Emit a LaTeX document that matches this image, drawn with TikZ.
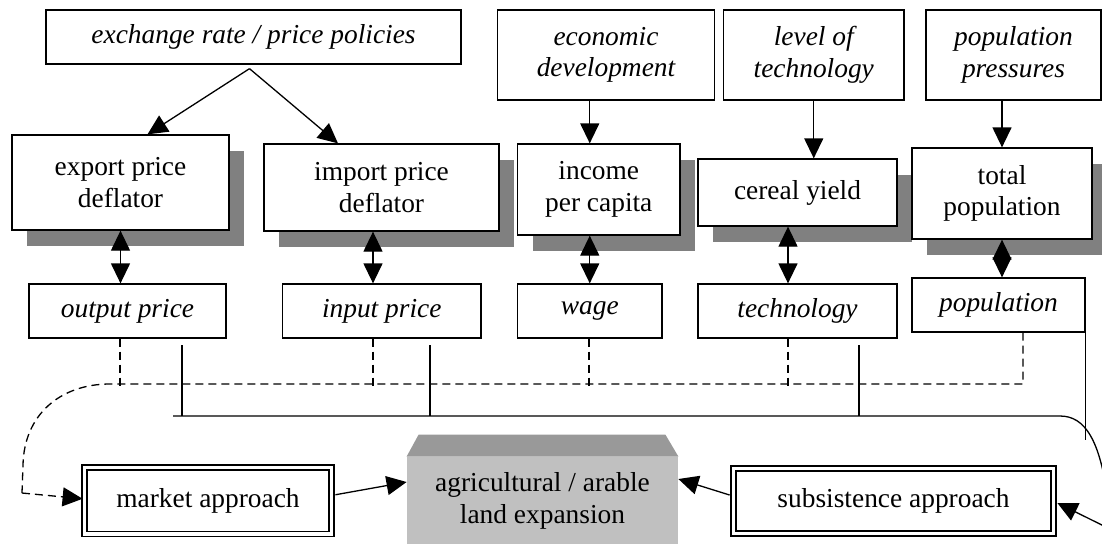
\documentclass[tikz,border=0pt]{standalone}
\usepackage{fontspec}
\setmainfont{Liberation Serif}
\usetikzlibrary{arrows.meta, calc, shadows}
\definecolor{shadowgray}{RGB}{128,128,128}
\definecolor{landgray}{RGB}{192,192,192}
\definecolor{bevelgray}{RGB}{153,153,153}
\tikzset{
  driver/.style={draw, fill=white, line width=0.65pt, align=center, inner sep=0pt, font=\itshape\fontsize{13.7}{15.8}\selectfont},
  indicator/.style={draw, fill=white, line width=0.65pt, align=center, inner sep=0pt, font=\fontsize{13.7}{15.8}\selectfont,
    drop shadow={shadow xshift=7.5pt, shadow yshift=-8pt, fill=shadowgray, opacity=1}},
  approach/.style={draw, double, double distance=1.6pt, line width=0.9pt, fill=white, align=center, inner sep=0pt, font=\fontsize{13.7}{15.8}\selectfont},
  outcome/.style={fill=landgray, align=center, inner sep=0pt, font=\fontsize{13.7}{15.8}\selectfont},
  arr/.style={-{Triangle[length=10pt,width=9.5pt]}, line width=0.65pt},
  biarr/.style={{Triangle[length=10pt,width=9.5pt]}-{Triangle[length=10pt,width=9.5pt]}, line width=0.65pt},
  dashlink/.style={dashed, dash pattern=on 4pt off 2.5pt, line width=0.65pt},
  solidlink/.style={line width=0.65pt},
}
\begin{document}
\begin{tikzpicture}[x=0.5pt, y=-0.5pt]
\clip (0,0) rectangle (1102,543);
\fill[white] (0,0) rectangle (1102,543);

% external drivers
\node[driver, minimum width=207.5pt, minimum height=27pt] (exrate) at (253.5,37) {exchange rate / price policies};
\node[driver, minimum width=108.5pt, minimum height=45pt] (econdev) at (606,55) {economic\\development};
\node[driver, minimum width=90.25pt, minimum height=45pt] (techlevel) at (813.75,55) {level of\\technology};
\node[driver, minimum width=87.5pt, minimum height=45pt] (poppress) at (1013.5,55) {population\\pressures};

% indicators
\node[indicator, minimum width=108.5pt, minimum height=47.5pt] (expdefl) at (120.5,182.5) {export price\\deflator};
\node[indicator, minimum width=117.5pt, minimum height=43.5pt] (impdefl) at (381.5,187.5) {import price\\deflator};
\node[indicator, minimum width=81.25pt, minimum height=45.5pt] (income) at (598.75,189.5) {income\\per capita};
\node[indicator, minimum width=99.5pt, minimum height=33.5pt] (yield) at (797.5,192.5) {cereal yield};
\node[indicator, minimum width=90pt, minimum height=45.5pt] (totpop) at (1002,193.5) {total\\population};

% model variables
\node[driver, minimum width=98.5pt, minimum height=27pt] (outprice) at (127.5,311) {output price};
\node[driver, minimum width=99.25pt, minimum height=27pt] (inprice) at (381.75,311) {input price};
\node[driver, minimum width=72.25pt, minimum height=27pt] (wage) at (589.75,311) {wage};
\node[driver, minimum width=99.5pt, minimum height=27pt] (tech) at (797.5,311) {technology};
\node[driver, minimum width=86.5pt, minimum height=27pt] (pop) at (998.5,305) {population};

% approaches and outcome
\node[approach, minimum width=123.5pt, minimum height=33.25pt] (market) at (208,500.75) {market approach};
\node[approach, minimum width=160pt, minimum height=32.5pt] (subsist) at (893.5,501) {subsistence approach};
\node[outcome, minimum width=135.5pt, minimum height=44pt] (agland) at (542.5,501) {agricultural / arable\\land expansion};
\fill[bevelgray] (agland.north west) -- ++(12,-22) -- ($(agland.north east)+(-13,-22)$) -- (agland.north east) -- cycle;

% bus coordinates
\coordinate (d1) at (120,384);
\coordinate (d2) at (373,384);
\coordinate (d3) at (589,384);
\coordinate (d4) at (788,384);
\coordinate (d5) at (1023,384);
\coordinate (dbend) at (110,384);
\coordinate (dleft) at (23,465);
\coordinate (dfoot) at (22,493);
\coordinate (s1) at (182,345);
\coordinate (s2) at (430,345);
\coordinate (s3) at (859,345);
\coordinate (busw) at (173,416);
\coordinate (buse) at (1060,416);
\coordinate (offr) at (1108,500);
\coordinate (offr2) at (1110,529);

% drivers to indicators
\draw[arr] ($(exrate.south)+(-4,4)$) -- ($(expdefl.north)+(27,0)$);
\draw[arr] ($(exrate.south)+(-4,4)$) -- ($(impdefl.north)+(-43.5,0)$);
\draw[arr] (econdev.south -| wage) -- (income.north -| wage);
\draw[arr] (techlevel.south) -- (techlevel.south |- yield.north);
\draw[arr] (poppress.south -| totpop) -- (totpop.north);

% indicators to variables
\draw[biarr] (expdefl.south) -- (expdefl.south |- outprice.north);
\draw[biarr] ($(impdefl.south)+(-8.5,0)$) -- ($(inprice.north)+(-8.75,0)$);
\draw[biarr] (income.south -| wage) -- (wage.north);
\draw[biarr] ($(yield.south)+(-9.5,0)$) -- ($(tech.north)+(-9.5,0)$);
\draw[biarr] (totpop.south) -- (totpop.south |- pop.north);

% market links (dashed)
\foreach \b/\d in {outprice/d1, inprice/d2, wage/d3, tech/d4}
  \draw[dashlink] (\b.south -| \d) -- ([yshift=-2pt]\d);
\draw[dashlink] (pop.south -| d5) -- (d5) -- (dbend) .. controls (60,384) and (24,415) .. (dleft) -- (dfoot);
\draw[dashlink, -{Triangle[length=10pt,width=9.5pt]}] (dfoot) -- ($(market.west)+(-1,-2)$);

% subsistence links (solid)
\foreach \s in {s1, s2, s3}
  \draw[solidlink] (\s) -- (\s |- busw);
\draw[solidlink] (pop.south east) -- ++(0,107);
\draw[arr] (busw) -- (buse) .. controls (1085,416) and (1100,440) .. (offr) .. controls (1112,520) and (1114,530) .. (offr2) -- ($(subsist.east)+(3,2)$);

% approaches to outcome
\draw[arr] ($(market.east)+(3,-6)$) -- ($(agland.west)+(0,-19)$);
\draw[arr] ($(subsist.west)+(-3,-6)$) -- ($(agland.east)+(0,-22)$);
\end{tikzpicture}
\end{document}
